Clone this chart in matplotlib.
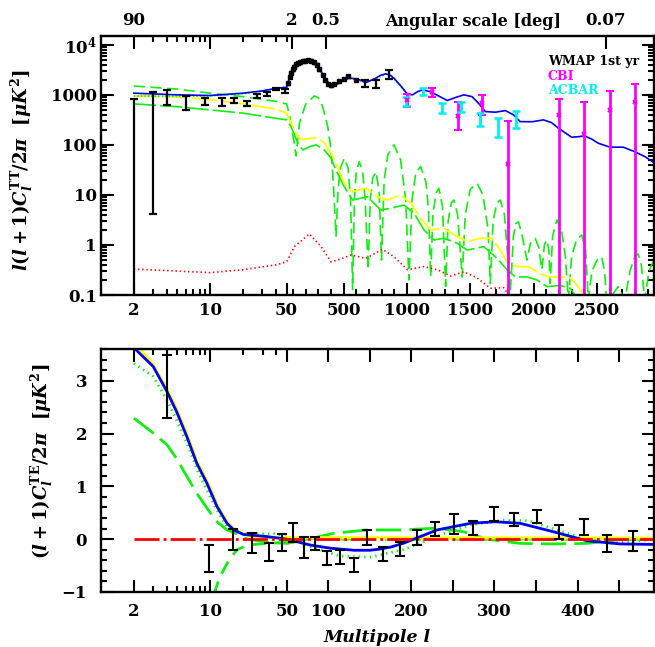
import numpy as np
import matplotlib
matplotlib.use("Agg")
import matplotlib.pyplot as plt
from matplotlib.ticker import FixedLocator, FixedFormatter, NullFormatter

plt.rcParams.update({
    "font.family": "DejaVu Serif",
    "font.weight": "bold",
    "mathtext.fontset": "custom",
    "mathtext.rm": "DejaVu Serif:bold",
    "mathtext.it": "DejaVu Serif:italic:bold",
    "mathtext.bf": "DejaVu Serif:bold",
    "lines.scale_dashes": False,
})

BLUE, GREEN, YELLOW, RED = "#0000ee", "#11ee11", "#ffff00", "#ff0000"
MAG, CYAN = "#ff00ff", "#00eeee"

# ---------------- top panel: TT ----------------
tt_l = [2, 5, 10, 20, 30, 40, 50, 70, 86, 100, 125, 165, 200, 230, 260, 283, 322, 361,
        401, 440, 492, 540, 580, 623, 676, 742, 790, 833, 870, 898, 952, 1004, 1044,
        1082, 1122, 1187, 1250, 1318, 1380, 1449, 1514, 1560, 1619, 1700, 1776, 1840,
        1894, 1990, 2077, 2140, 2195, 2300, 2405, 2460, 2510, 2602, 2707, 2798, 2880, 2956]
tt_blue = [1080, 1000, 970, 1080, 1200, 1350, 1420, 2100, 2600, 3100, 3700, 4400, 4850,
           4950, 4700, 4300, 2930, 2000, 1540, 1580, 1900, 2150, 2120, 2000, 1770, 2070,
           2450, 2630, 2450, 2130, 1500, 1030, 1000, 1150, 1260, 1150, 950, 770, 880,
           1000, 920, 700, 463, 450, 485, 400, 292, 290, 316, 280, 216, 142, 150, 130,
           108, 90, 90, 73, 58, 43]

dot_l = [2, 5, 10, 20, 30, 40, 50, 86, 125, 165, 230, 283, 322, 361, 401, 440, 492,
         540, 623, 676, 742, 833, 898, 952, 1004]
dot_v = [950, 930, 960, 1060, 1180, 1330, 1420, 2550, 3650, 4400, 5000, 4350, 2950,
         2000, 1520, 1570, 1880, 2150, 1980, 1760, 2060, 2620, 2120, 1500, 1030]

osc_l = [2, 5, 10, 20, 40, 50, 70, 90, 110, 125, 140, 151, 200, 269, 300, 335, 375, 401,
         420, 440, 455, 475, 505, 535, 555, 571, 585, 600, 623, 650, 670, 694, 710, 730,
         755, 780, 799, 820, 850, 898, 950, 990, 1016, 1040, 1070, 1108, 1150, 1170,
         1187, 1205, 1230, 1252, 1280, 1305, 1325, 1350, 1370, 1400, 1436, 1460, 1500,
         1554, 1600, 1640, 1658, 1680, 1710, 1737, 1770, 1816, 1840, 1860, 1881, 1910,
         1947, 1975, 2012, 2040, 2065, 2085, 2104, 2120, 2130, 2150, 2183, 2220, 2250,
         2274, 2300, 2340, 2379, 2410, 2431, 2460, 2500, 2537, 2560, 2576, 2620, 2667,
         2700, 2720, 2760, 2800, 2825, 2850, 2877, 2910, 2950]
osc_v = [1500, 1300, 1080, 920, 740, 660, 420, 220, 110, 60, 150, 270, 650, 950, 880,
         580, 230, 80, 15, 1.5, 12, 35, 54, 35, 8, 0.13, 8, 30, 46, 30, 8, 0.32, 8, 22,
         29, 12, 0.5, 20, 65, 100, 50, 8, 0.2, 8, 28, 37, 18, 5, 0.23, 4, 11, 13.6, 6,
         0.15, 3, 7, 7.9, 4, 0.23, 4, 13, 17, 10, 2, 0.17, 3, 7, 7.9, 4, 0.11, 1.5, 2.7,
         2.9, 1.5, 0.5, 1.1, 1.36, 0.9, 0.32, 1.0, 1.26, 0.8, 0.17, 1.5, 3.16, 2.0, 0.6,
         0.08, 0.6, 1.3, 1.58, 0.8, 0.08, 0.3, 0.5, 0.58, 0.3, 0.08, 0.1, 0.147, 0.1,
         0.08, 0.3, 0.6, 0.66, 0.4, 0.08, 0.3, 0.5]

yel_l = [2, 5, 10, 20, 40, 50, 86, 139, 178, 230, 296, 348, 401, 440, 505, 571, 676, 768,
         846, 951, 1030, 1108, 1187, 1291, 1397, 1475, 1580, 1672, 1737, 1790, 1868,
         1960, 2026, 2117, 2209, 2288, 2340, 2400]
yel_v = [950, 920, 800, 660, 520, 430, 270, 145, 126, 136, 136, 110, 69, 43, 17, 11.6,
         13.6, 9.2, 7.9, 10, 6.8, 3.4, 2.0, 2.15, 1.47, 1.17, 1.36, 1.36, 0.79, 0.46,
         0.37, 0.37, 0.29, 0.23, 0.23, 0.22, 0.16, 0.1]

lg_l = [2, 5, 10, 20, 40, 50, 86, 139, 178, 230, 283, 348, 401, 440, 505, 571, 689, 794,
        872, 977, 1056, 1134, 1213, 1291, 1397, 1475, 1606, 1711, 1790, 1855, 1947,
        2026, 2104, 2209, 2288, 2327]
lg_v = [660, 580, 500, 430, 340, 316, 230, 108, 79, 92, 100, 79, 54, 31, 14.7, 7.9, 9.2,
        5, 5.4, 6.3, 4.3, 2, 1.26, 1.36, 1.08, 0.79, 0.93, 0.54, 0.32, 0.23, 0.23, 0.2,
        0.147, 0.155, 0.136, 0.1]

red_l = [2, 10, 20, 40, 50, 112, 230, 322, 401, 453, 558, 676, 807, 898, 1004, 1134,
         1239, 1344, 1449, 1554, 1658, 1763, 1802]
red_v = [0.33, 0.28, 0.32, 0.4, 0.46, 0.93, 1.66, 0.93, 0.46, 0.5, 0.63, 0.54, 0.82,
         0.58, 0.32, 0.37, 0.32, 0.24, 0.29, 0.22, 0.136, 0.14, 0.1]

# WMAP low-l bars (lo, hi) and band-power points
wl_l = [2, 3, 4, 6, 9, 12.7, 16.4, 21.5, 26.7, 32.8, 39.8, 48.6, 665, 755, 855]
wl_lo = [0.01, 4.1, 630, 490, 630, 600, 700, 600, 870, 960, 1260, 1110, 1450, 1400, 2100]
wl_hi = [830, 1130, 1260, 960, 870, 870, 880, 760, 1030, 1150, 1400, 1330, 1950, 2000, 3200]
wp_l = [60, 73, 86, 100, 112, 125, 139, 159, 178, 199, 222, 243, 264, 288, 309, 335,
        356, 380, 401, 427, 466, 505, 537, 597]
wp_v = [1700, 2300, 2780, 3250, 3670, 4100, 4300, 4500, 4780, 4850, 5000, 4850, 4500,
        4000, 3250, 2500, 2000, 1660, 1540, 1640, 1900, 2070, 2400, 2000]

cbi_l = [1000, 1200, 1402, 1593, 1795, 2203, 2398, 2602, 2798]
cbi_v = [790, 1130, 380, 700, 42, 400, 168, 490, 725]
cbi_lo = [580, 920, 200, 400, 0.01, 0.01, 0.01, 0.01, 0.01]
cbi_hi = [1050, 1400, 710, 980, 300, 810, 730, 1220, 1610]

acb_l = [990, 1129, 1279, 1428, 1580, 1716, 1863]
acb_lo = [600, 1000, 435, 460, 235, 145, 215]
acb_hi = [920, 1370, 675, 730, 440, 340, 485]

# ---------------- bottom panel: TE ----------------
te_l = [2, 2.1, 3, 4, 4.9, 6.1, 7.5, 9.3, 11.5, 14.2, 16.3, 20, 32.7, 50, 78, 102, 131,
        150, 161, 175, 190, 231, 271, 301, 331, 371, 411, 451, 493]
te_blue = [3.7, 3.58, 3.27, 2.80, 2.42, 1.94, 1.44, 1.06, 0.62, 0.30, 0.18, 0.09, 0.05,
           0.0, -0.11, -0.17, -0.21, -0.21, -0.19, -0.15, -0.08, 0.175, 0.30, 0.33, 0.30,
           0.14, -0.03, -0.09, -0.1]
te_yl = [2, 3, 4, 4.9, 6.1, 7.5, 9.3, 11.5, 14.2, 16.3, 20, 25, 493]
te_yel = [3.75, 3.3, 2.85, 2.47, 1.99, 1.49, 1.1, 0.66, 0.33, 0.2, 0.1, 0.03, 0.02]
te_dl = [2, 3, 4, 4.9, 6.1, 7.5, 9.3, 11.5, 14.2, 17.5, 20, 38.6, 50, 78, 114, 150, 190,
         210, 240, 271, 311, 341, 375, 411, 439, 463, 493]
te_dot = [3.33, 3.08, 2.64, 2.26, 1.82, 1.34, 0.93, 0.55, 0.24, 0.14, 0.11, 0.10, 0.04,
          -0.14, -0.32, -0.34, -0.2, -0.08, 0.11, 0.27, 0.36, 0.35, 0.175, 0.0, -0.08,
          -0.05, 0.0]
te_ll = [2, 3, 4, 4.9, 6.1, 7.5, 9.3, 11.5, 14.2, 17.5, 20, 32.7, 50, 74, 106, 147, 190,
         231, 263, 291, 331, 371, 411, 451, 493]
te_long = [2.29, 2.01, 1.79, 1.53, 1.19, 0.87, 0.59, 0.33, 0.175, 0.10, 0.02, -0.06,
           -0.08, -0.01, 0.11, 0.175, 0.175, 0.21, 0.14, 0.0, -0.08, -0.09, -0.08, -0.01, 0.02]
te_sl = [10.8, 12, 14.2, 17.5, 20, 25, 33, 50, 70, 493]
te_short = [-1.05, -0.75, -0.46, -0.2, -0.15, -0.1, -0.08, -0.06, 0.0, 0.0]
te_rl = [2, 493]
te_red = [0, 0]

tb_l = [4, 9.8, 16.2, 24.2, 34.5, 45, 57.6, 70.8, 83.6, 98.8, 113.5, 130.7, 146.8, 166,
        186, 206.8, 228, 250.7, 274.7, 299.5, 323.5, 350.7, 377.9, 407.6, 436, 466.6]
tb_lo = [2.29, -0.63, -0.2, -0.27, -0.41, -0.22, -0.05, -0.36, -0.2, -0.49, -0.47, -0.62,
         -0.11, -0.42, -0.32, -0.11, 0.06, 0.10, 0.08, 0.35, 0.24, 0.30, 0.0, 0.08, -0.25,
         -0.22]
tb_hi = [3.48, -0.11, 0.19, 0.11, -0.08, 0.10, 0.30, 0.04, 0.05, -0.22, -0.2, -0.36,
         0.175, -0.14, -0.05, 0.175, 0.33, 0.47, 0.35, 0.60, 0.49, 0.55, 0.26, 0.38, 0.07,
         0.16]

LOG50 = np.log10(50.0)


def hybrid(k):
    # log below l=50, linear above (k decades per unit l)
    def fwd(l):
        l = np.asarray(l, dtype=float)
        lg = np.log10(np.where(l > 0, l, 1e-300))
        return np.where(l <= 50, lg, LOG50 + (l - 50) * k)

    def inv(u):
        u = np.asarray(u, dtype=float)
        return np.where(u <= LOG50, 10.0 ** np.minimum(u, LOG50), 50 + (u - LOG50) / k)
    return fwd, inv


FT = hybrid(0.0011595)
FB = hybrid(0.007599)

fig = plt.figure(figsize=(6.55, 6.47), dpi=100)
ax = fig.add_axes([101 / 655, 1 - 295 / 647, 553 / 655, 259 / 647])
bx = fig.add_axes([101 / 655, 1 - 592 / 647, 553 / 655, 243 / 647])

for a in (ax, bx):
    for s in a.spines.values():
        s.set_linewidth(1.7)

# ---- top panel ----
ax.set_xscale("function", functions=FT)
ax.set_yscale("log")
ax.set_xlim(1.0, 2950)
ax.set_ylim(0.1, 1.5e4)

ax.plot(osc_l, osc_v, color=GREEN, lw=1.2, dashes=(8, 4))
ax.plot(lg_l, lg_v, color=GREEN, lw=1.2, dashes=(16, 3))
ax.plot(yel_l, yel_v, color=YELLOW, lw=1.3, dashes=(18, 3))
ax.plot(red_l, red_v, color=RED, lw=1.2, ls=(0, (1, 2)))
ax.plot(dot_l, dot_v, color=GREEN, lw=1.4, ls=(0, (1, 1.5)))
ax.plot(tt_l, tt_blue, color=BLUE, lw=1.2)

wl_mid = np.sqrt(np.array(wl_lo) * np.array(wl_hi))
ax.errorbar(wl_l, wl_mid, yerr=[wl_mid - np.array(wl_lo), np.array(wl_hi) - wl_mid],
            fmt="none", ecolor="black", elinewidth=1.6, capsize=3, capthick=1.6)
ax.errorbar(wp_l, wp_v, yerr=[np.array(wp_v) * 0.06, np.array(wp_v) * 0.06], fmt="s",
            color="black", ms=2.4, elinewidth=1.0, capsize=1.2, capthick=1.0)
ax.errorbar(cbi_l, cbi_v, yerr=[np.array(cbi_v) - np.array(cbi_lo),
                                np.array(cbi_hi) - np.array(cbi_v)],
            fmt="x", color=MAG, ms=3.5, mew=1.5, elinewidth=2.0, capsize=3, capthick=1.8)
acb_mid = np.sqrt(np.array(acb_lo) * np.array(acb_hi))
ax.errorbar(acb_l, acb_mid, yerr=[acb_mid - np.array(acb_lo), np.array(acb_hi) - acb_mid],
            fmt="none", ecolor=CYAN, elinewidth=2.0, capsize=3, capthick=1.8)

tmaj = [2, 10, 50, 500, 1000, 1500, 2000, 2500]
tmin = [3, 4, 5, 6, 7, 8, 9, 20, 30, 40] + [v for v in range(100, 3000, 100) if v % 500]
ax.xaxis.set_major_locator(FixedLocator(tmaj))
ax.xaxis.set_major_formatter(FixedFormatter([str(v) for v in tmaj]))
ax.xaxis.set_minor_locator(FixedLocator(tmin))
ax.xaxis.set_minor_formatter(NullFormatter())
ymaj = [0.1, 1, 10, 100, 1000, 1e4]
ax.yaxis.set_major_locator(FixedLocator(ymaj))
ax.yaxis.set_major_formatter(FixedFormatter(["0.1", "1", "10", "100", "1000",
                                             r"$\mathrm{10}^{\mathrm{4}}$"]))
ax.yaxis.set_minor_locator(FixedLocator([k * 10.0 ** e for e in range(-1, 5)
                                         for k in range(2, 10)]))
ax.yaxis.set_minor_formatter(NullFormatter())
ax.tick_params(which="both", direction="in", top=False, right=True, width=1.5,
               labelsize=12)
ax.tick_params(which="major", length=9)
ax.tick_params(which="minor", length=4.5)
ax.tick_params(axis="x", pad=5)
ax.tick_params(axis="y", pad=3)

ax2 = ax.twiny()
ax2.set_xscale("function", functions=FT)
ax2.set_xlim(ax.get_xlim())
ang_l = [2, 10, 90, 360, 2571]
ax2.xaxis.set_major_locator(FixedLocator(ang_l))
ax2.xaxis.set_major_formatter(FixedFormatter(["90", "", "2", "0.5", "0.07"]))
ax2.xaxis.set_minor_locator(FixedLocator([3, 4, 5, 6, 7, 8, 9, 20, 30, 40, 50]))
ax2.xaxis.set_minor_formatter(NullFormatter())
ax2.tick_params(which="both", direction="in", width=1.5, labelsize=12, pad=5)
ax2.tick_params(which="major", length=9)
ax2.tick_params(which="minor", length=4.5)
for s in ax2.spines.values():
    s.set_visible(False)

fig.text(473 / 655, 1 - 21 / 647, "Angular scale [deg]", ha="center", va="center",
         fontsize=11.5, fontweight="bold")
for i, (txt, col) in enumerate([("WMAP 1st yr", "black"), ("CBI", MAG),
                                ("ACBAR", CYAN)]):
    fig.text(548 / 655, 1 - (61 + 15 * i) / 647, txt, color=col, ha="left", va="center",
             fontsize=9, fontweight="bold")
fig.text(22 / 655, 1 - 170 / 647, r"$l(l+1)C_l^{\mathrm{TT}}/2\pi\ \ [\mu K^2]$",
         rotation=90, ha="center", va="center", fontsize=13)

# ---- bottom panel ----
bx.set_xscale("function", functions=FB)
bx.set_xlim(1.0, 492)
bx.set_ylim(-1, 3.6)
bx.plot(te_sl, te_short, color=GREEN, lw=2.0, dashes=(10, 6))
bx.plot(te_ll, te_long, color=GREEN, lw=2.0, dashes=(18, 6))
bx.plot(te_dl, te_dot, color=GREEN, lw=2.0, ls=(0, (1, 3)))
bx.plot(te_yl, te_yel, color=YELLOW, lw=2.2)
bx.plot(te_l, te_blue, color=BLUE, lw=2.0)
bx.plot(te_rl, te_red, color=RED, lw=2.0, dashes=(18, 3, 2, 3))
tb_mid = (np.array(tb_lo) + np.array(tb_hi)) / 2
bx.errorbar(tb_l, tb_mid, yerr=[tb_mid - np.array(tb_lo), np.array(tb_hi) - tb_mid],
            fmt="none", ecolor="black", elinewidth=1.5, capsize=3.5, capthick=1.5)

bmaj = [2, 10, 50, 100, 150, 200, 250, 300, 350, 400, 450]
blab = ["2", "10", "50", "100", "", "200", "", "300", "", "400", ""]
bx.xaxis.set_major_locator(FixedLocator(bmaj))
bx.xaxis.set_major_formatter(FixedFormatter(blab))
bx.xaxis.set_minor_locator(FixedLocator([3, 4, 5, 6, 7, 8, 9, 20, 30, 40]))
bx.xaxis.set_minor_formatter(NullFormatter())
bx.yaxis.set_major_locator(FixedLocator([-1, 0, 1, 2, 3]))
bx.yaxis.set_major_formatter(FixedFormatter(["\u22121", "0", "1", "2", "3"]))
bx.yaxis.set_minor_locator(FixedLocator(np.arange(-0.8, 3.61, 0.2)))
bx.yaxis.set_minor_formatter(NullFormatter())
bx.tick_params(which="both", direction="in", top=True, right=True, width=1.5,
               labelsize=12)
bx.tick_params(which="major", length=9)
bx.tick_params(which="minor", length=4.5)
bx.tick_params(axis="x", pad=8)
bx.tick_params(axis="y", pad=10)

fig.text(42 / 655, 1 - 461 / 647, r"$(l+1)C_l^{\mathrm{TE}}/2\pi\ \ [\mu K^2]$",
         rotation=90, ha="center", va="center", fontsize=13)
fig.text(377 / 655, 1 - 638 / 647, "Multipole l", ha="center", va="center",
         fontsize=12.5, fontweight="bold", fontstyle="italic")

fig.savefig("out.png", dpi=100)
